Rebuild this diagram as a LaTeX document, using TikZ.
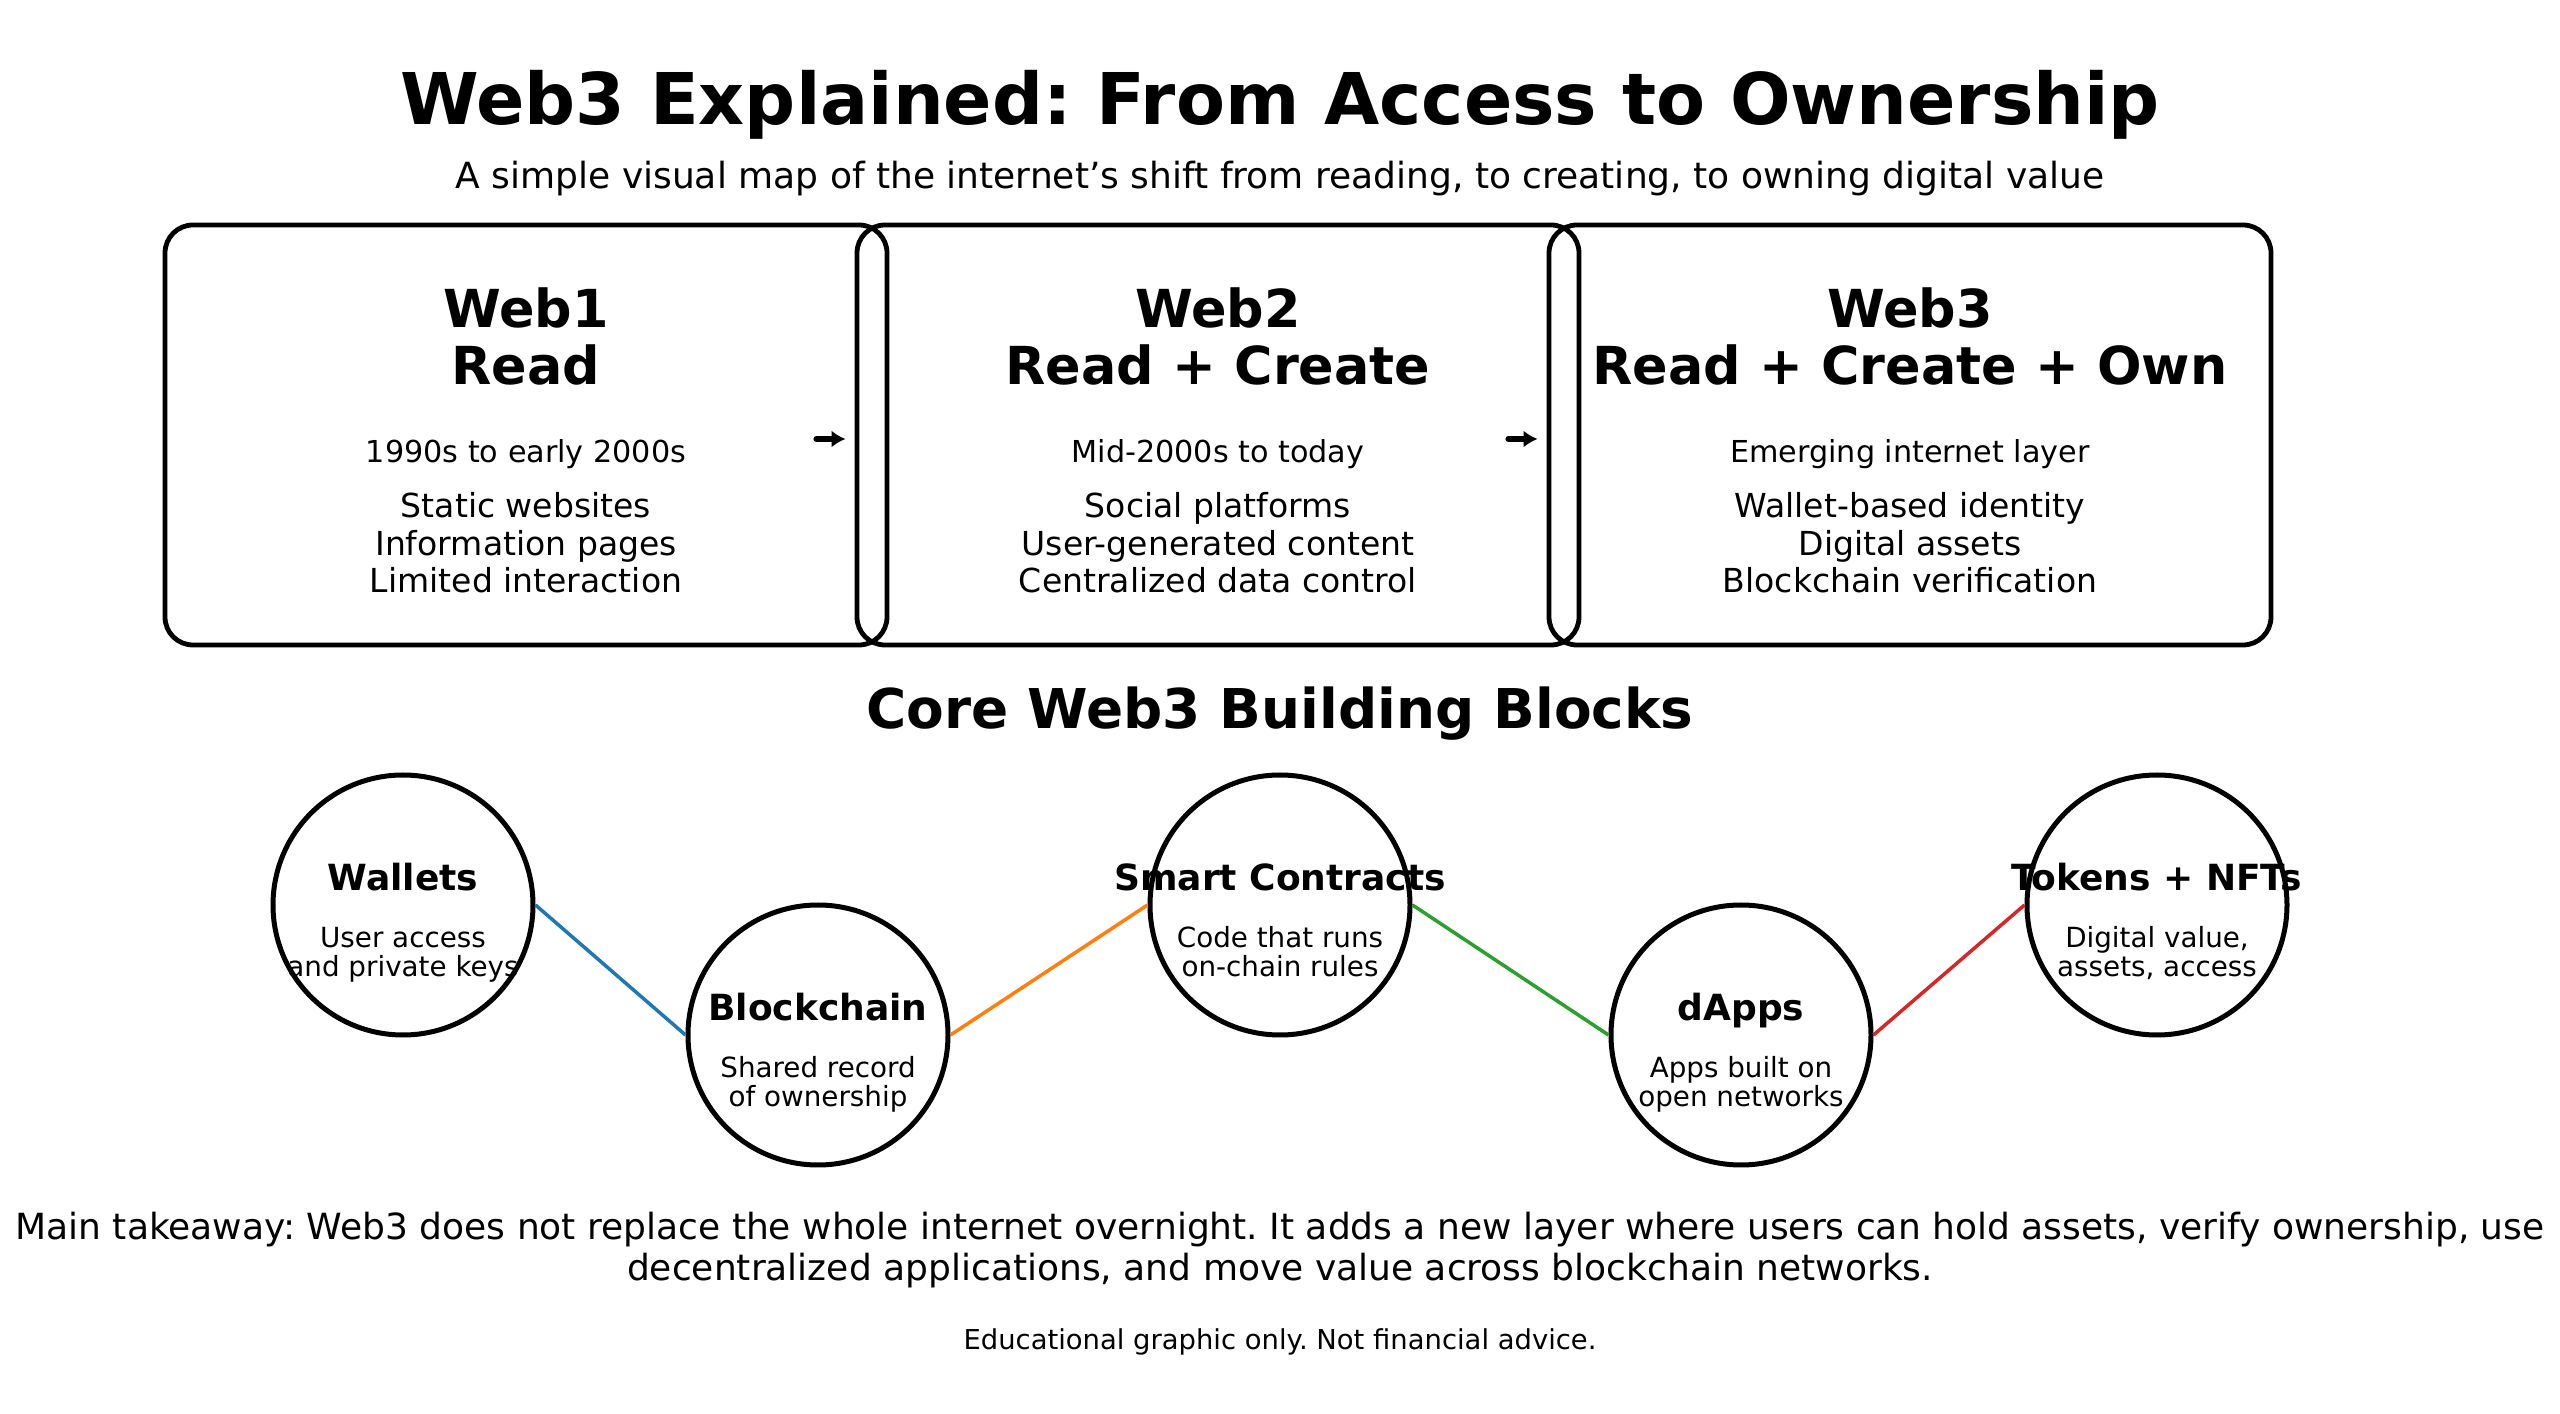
\documentclass[tikz,border=0pt]{standalone}
\usepackage{fontspec}
\setmainfont{DejaVu Sans}
\usepackage{xcolor}
\usepackage{tikz}
\usetikzlibrary{positioning, arrows.meta, calc}

\definecolor{tabblue}{HTML}{1F77B4}
\definecolor{taborange}{HTML}{FF7F0E}
\definecolor{tabgreen}{HTML}{2CA02C}
\definecolor{tabred}{HTML}{D62728}

\newcommand{\setfs}[2]{\fontsize{#1}{#2}\selectfont}
\frenchspacing

\begin{document}
\begin{tikzpicture}[x=0.1mm, y=-0.1mm,
  stage/.style={rectangle, draw, line width=0.48mm, rounded corners=2.8mm, minimum width=72.2mm, minimum height=42mm},
  era/.style={anchor=base, inner sep=0pt, align=center, font=\bfseries\setfs{14.9}{16.5}},
  period/.style={anchor=base, inner sep=0pt, font=\setfs{8.6}{10.3}},
  traits/.style={anchor=base, inner sep=0pt, align=center, font=\setfs{9.4}{10.8}},
  flowarrow/.style={-{Latex[length=1.4mm, width=1.7mm]}, line width=0.6mm, line cap=round},
  block/.style={circle, draw, line width=0.5mm, minimum size=26mm, inner sep=0pt},
  blockname/.style={anchor=base, inner sep=0pt, font=\bfseries\setfs{10.25}{12.3}},
  blocknote/.style={anchor=base, inner sep=0pt, align=center, font=\setfs{7.9}{8.4}},
  link/.style={line width=0.35mm}
]
\useasboundingbox (0,0) rectangle (2560,1414);
\fill[white] (0,0) rectangle (2560,1414);

% heading
\node[anchor=base, inner sep=0pt, font=\bfseries\setfs{20.3}{24.4}] (title) at (1280,125) {Web3 Explained: From Access to Ownership};
\node[anchor=base, inner sep=0pt, font=\setfs{10.25}{12.3}] (subtitle) at (1280,189) {A simple visual map of the internet’s shift from reading, to creating, to owning digital value};

% the three stages
\node[stage] (web1) at (526,435) {};
\node[stage] (web2) at (1218,435) {};
\node[stage] (web3) at (1910,435) {};

% multi-line nodes sit on the baseline of their last line
\node[era] (web1name) at (526,385) {Web1\\Read};
\node[period] (web1when) at (526,463) {1990s to early 2000s};
\node[traits] (web1list) at (526,593) {Static websites\\Information pages\\Limited interaction};

\node[era] (web2name) at (1218,385) {Web2\\Read + Create};
\node[period] (web2when) at (1218,463) {Mid-2000s to today};
\node[traits] (web2list) at (1218,593) {Social platforms\\User-generated content\\Centralized data control};

\node[era] (web3name) at (1910,385) {Web3\\Read + Create + Own};
\node[period] (web3when) at (1910,463) {Emerging internet layer};
\node[traits] (web3list) at (1910,593) {Wallet-based identity\\Digital assets\\Blockchain verification};

\draw[flowarrow] ([xshift=-7.3mm, yshift=-0.4mm]web1.east) -- ([xshift=-0.9mm, yshift=-0.4mm]web2.west);
\draw[flowarrow] ([xshift=-7.3mm, yshift=-0.4mm]web2.east) -- ([xshift=-0.9mm, yshift=-0.4mm]web3.west);

% building blocks
\node[anchor=base, inner sep=0pt, font=\bfseries\setfs{15.6}{18.7}] (core) at (1280,729) {Core Web3 Building Blocks};

\node[block] (wallets) at (403,905) {};
\node[block] (chain) at (818,1035) {};
\node[block] (contracts) at (1280,905) {};
\node[block] (dapps) at (1741,1035) {};
\node[block] (tokens) at (2157,905) {};

\node[blockname] (walletsname) at ([yshift=1.4mm]wallets.center) {Wallets};
\node[blocknote] (walletsnote) at ([yshift=-7.2mm]wallets.center) {User access\\and private keys};
\node[blockname] (chainname) at ([yshift=1.4mm]chain.center) {Blockchain};
\node[blocknote] (chainnote) at ([yshift=-7.2mm]chain.center) {Shared record\\of ownership};
\node[blockname] (contractsname) at ([yshift=1.4mm]contracts.center) {Smart Contracts};
\node[blocknote] (contractsnote) at ([yshift=-7.2mm]contracts.center) {Code that runs\\on-chain rules};
\node[blockname] (dappsname) at ([yshift=1.4mm]dapps.center) {dApps};
\node[blocknote] (dappsnote) at ([yshift=-7.2mm]dapps.center) {Apps built on\\open networks};
\node[blockname] (tokensname) at ([yshift=1.4mm]tokens.center) {Tokens + NFTs};
\node[blocknote] (tokensnote) at ([yshift=-7.2mm]tokens.center) {Digital value,\\assets, access};

\draw[link, tabblue] (wallets.east) -- (chain.west);
\draw[link, taborange] (chain.east) -- (contracts.west);
\draw[link, tabgreen] (contracts.east) -- (dapps.west);
\draw[link, tabred] (dapps.east) -- (tokens.west);

% closing notes
\node[anchor=base, inner sep=0pt, align=center, font=\setfs{10.25}{11.6}] (takeaway) at (1280,1280) {Main takeaway: Web3 does not replace the whole internet overnight. It adds a new layer where users can hold assets, verify ownership, use\\decentralized applications, and move value across blockchain networks.};
\node[anchor=base, inner sep=0pt, font=\setfs{7.8}{9.4}] (footer) at (1280,1349) {Educational graphic only. Not financial advice.};

\end{tikzpicture}
\end{document}
